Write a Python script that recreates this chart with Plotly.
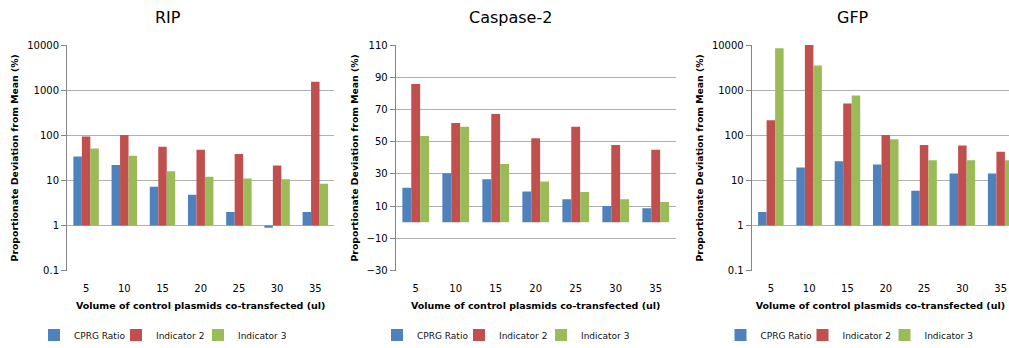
import plotly.graph_objects as go

# ---- data -------------------------------------------------------------
volumes = ["5", "10", "15", "20", "25", "30", "35"]
series_names = ["CPRG Ratio", "Indicator 2", "Indicator 3"]

rip_cprg = [33.8, 22, 7.2, 4.8, 2.0, 0.9, 2.0]
rip_ind2 = [94, 102, 56, 48, 38.7, 21.3, 1525]
rip_ind3 = [50.8, 35, 16, 12, 11, 10.6, 8.4]

casp_cprg = [21.5, 30.4, 26.7, 19.2, 14.3, 10.1, 8.7]
casp_ind2 = [85.8, 61.6, 67.2, 52.1, 59.3, 48.0, 45.1]
casp_ind3 = [53.6, 59.3, 36.2, 25.4, 18.8, 14.3, 12.6]

gfp_cprg = [2.0, 19.3, 26.6, 22.5, 5.9, 14.2, 14.2]
gfp_ind2 = [216, 10000, 505, 102, 61, 59, 43]
gfp_ind3 = [8490, 3510, 760, 82, 28, 28, 28]

log_ticks = [0.1, 1, 10, 100, 1000, 10000]
log_tick_text = ["0.1", "1", "10", "100", "1000", "10000"]
lin_ticks = [-30, -10, 10, 30, 50, 70, 90, 110]

# ---- styling ----------------------------------------------------------
W, H = 1009, 348
colors = ["#4F81BD", "#C0504D", "#9BBB59"]
grid_col = "#B0B0B0"
axis_col = "#868686"
font_main = "DejaVu Sans"
x_title = "Volume of control plasmids co-transfected (ul)"
y_title = "Proportionate Deviation from Mean (%)"

top_px, bot_px = 45, 270.7
y_dom = [1 - bot_px / H, 1 - top_px / H]
panels = [
    # title, x-domain (px), x-range end, log?, crossing value, series, title x
    ("RIP", (67, 334.4), 6.5, True, 1, (rip_cprg, rip_ind2, rip_ind3), 168),
    ("Caspase-2", (395.7, 675.7), 6.5, False, 0, (casp_cprg, casp_ind2, casp_ind3), 511),
    ("GFP", (751.7, 1009), -0.5 + (1009 - 751.7) / 38.3, True, 1, (gfp_cprg, gfp_ind2, gfp_ind3), 853),
]
# legend swatch centres (px) per panel, one per series
legend_swatch_px = [(54, 136, 218), (397, 479, 561), (740.5, 822.5, 904.5)]

fig = go.Figure()
annotations = []
layout = {}
legend_no = 0

for i, (title, (x0, x1), xend, is_log, cross, series, title_x) in enumerate(panels):
    n = "" if i == 0 else str(i + 1)
    ov = str(i + 4)
    for j, (name, vals, col) in enumerate(zip(series_names, series, colors)):
        legend_no += 1
        legend_id = "legend" if legend_no == 1 else "legend" + str(legend_no)
        if is_log:
            # bars rise (or drop) from the horizontal axis crossing at 1
            fig.add_trace(go.Bar(
                x=volumes, y=[v - cross for v in vals], base=cross,
                customdata=vals, hovertemplate="%{customdata}<extra>" + name + "</extra>",
                name=name, marker=dict(color=col, line=dict(width=0)),
                xaxis="x" + n, yaxis="y" + n, legend=legend_id))
        else:
            fig.add_trace(go.Bar(
                x=volumes, y=vals, name=name,
                marker=dict(color=col, line=dict(width=0)),
                xaxis="x" + n, yaxis="y" + n, legend=legend_id))
        layout[legend_id] = dict(
            orientation="h", x=(legend_swatch_px[i][j] - 20) / W, xanchor="left",
            y=1 - 335 / H, yanchor="middle", bgcolor="rgba(0,0,0,0)",
            font=dict(family=font_main, size=9, color="#111"),
            itemwidth=30,
        )

    layout["xaxis" + n] = dict(
        domain=[x0 / W, x1 / W], anchor="y" + n, type="category",
        range=[-0.5, xend], showline=False, ticks="", showgrid=False,
        tickfont=dict(family=font_main, size=10, color="#000"),
        ticklabelstandoff=10,
        title=dict(text=x_title, standoff=9,
                   font=dict(family=font_main, size=9.5, color="#000", weight="bold")),
    )
    if is_log:
        ymin, ymax = -1, 4
        yax = dict(type="log", range=[ymin, ymax], tickvals=log_ticks, ticktext=log_tick_text)
        frac = (0 - ymin) / (ymax - ymin)
    else:
        ymin, ymax = -30, 110
        yax = dict(type="linear", range=[ymin, ymax], tickvals=lin_ticks)
        frac = (cross - ymin) / (ymax - ymin)
    yax.update(
        domain=y_dom, anchor="x" + n, showgrid=True, gridcolor=grid_col, gridwidth=1,
        zeroline=False, showline=True, linecolor=axis_col, linewidth=1,
        ticks="outside", ticklen=5, tickcolor=axis_col,
        tickfont=dict(family=font_main, size=10, color="#000"),
        title=dict(text=y_title, standoff=6,
                   font=dict(family=font_main, size=9.3, color="#000", weight="bold")),
    )
    layout["yaxis" + n] = yax

    # category axis line at the crossing value, with ticks between categories
    layout["xaxis" + ov] = dict(
        overlaying="x" + n, anchor="free",
        position=y_dom[0] + frac * (y_dom[1] - y_dom[0]),
        range=[-0.5, xend], tickvals=[k + 0.5 for k in range(len(volumes))],
        showticklabels=False, showgrid=False, zeroline=False,
        showline=True, linecolor=axis_col, linewidth=1,
        ticks="outside", ticklen=5, tickcolor=axis_col,
    )

    annotations.append(dict(
        text=title, x=title_x / W, y=1 - 18 / H, xref="paper", yref="paper",
        xanchor="center", yanchor="middle", showarrow=False,
        font=dict(family=font_main, size=16, color="#000"),
    ))

fig.update_layout(
    width=W, height=H, margin=dict(l=0, r=0, t=0, b=0, autoexpand=False),
    paper_bgcolor="white", plot_bgcolor="white",
    barmode="group", bargap=1 / 3, bargroupgap=0,
    showlegend=True, annotations=annotations, **layout,
)

fig.write_html("out.html")
